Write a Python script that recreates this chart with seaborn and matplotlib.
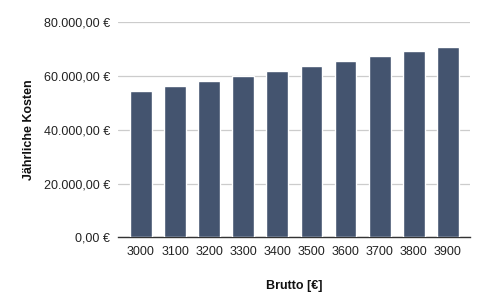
import matplotlib
matplotlib.use("Agg")
import matplotlib.pyplot as plt
import seaborn as sns
import pandas as pd
from matplotlib.ticker import FuncFormatter

brutto = ["3000", "3100", "3200", "3300", "3400", "3500", "3600", "3700", "3800", "3900"]
kosten = [54600, 56350, 58200, 60070, 61930, 63800, 65660, 67520, 69380, 70870]
y_ticks = [0, 20000, 40000, 60000, 80000]

sns.set_style("white")
plt.rcParams["font.family"] = ["Liberation Sans", "DejaVu Sans"]

df = pd.DataFrame({"Brutto": brutto, "Kosten": kosten})

fig = plt.figure(figsize=(4.86, 3.05), dpi=100)
ax = fig.add_axes([0.243, 0.222, 0.724, 0.705])

sns.barplot(data=df, x="Brutto", y="Kosten", color="#44546f", saturation=1,
            width=0.64, ax=ax, zorder=3)

ax.set_ylim(0, 80000)
ax.set_xlim(-0.67, 9.65)
ax.set_yticks(y_ticks)

def fmt(v, pos):
    s = f"{v:,.2f}".replace(",", "X").replace(".", ",").replace("X", ".")
    return s + " €"

ax.yaxis.set_major_formatter(FuncFormatter(fmt))
ax.grid(axis="y", color="#cccccc", linewidth=0.9, zorder=0)
ax.grid(axis="x", visible=False)
for s in ["top", "right", "left"]:
    ax.spines[s].set_visible(False)
ax.spines["bottom"].set_color("#333333")
ax.spines["bottom"].set_linewidth(1)
ax.tick_params(axis="both", length=0, labelsize=9, colors="#222222")
ax.tick_params(axis="y", pad=6)
ax.tick_params(axis="x", pad=6)

ax.set_xlabel("Brutto [€]", fontsize=9, fontweight="bold", labelpad=16, color="#111111")
ax.set_ylabel("Jährliche Kosten", fontsize=9, fontweight="bold", labelpad=6, color="#111111")

fig.savefig("out.png", dpi=100)
